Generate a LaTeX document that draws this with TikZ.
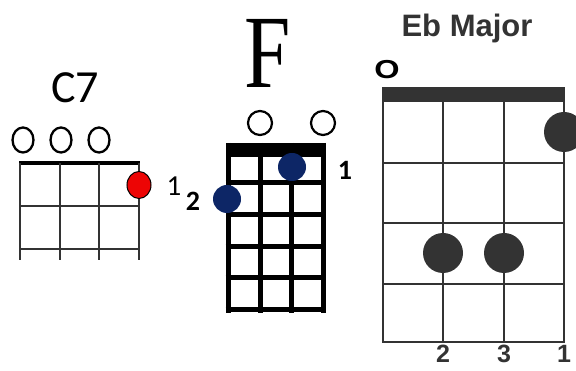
\documentclass[tikz,border=0pt]{standalone}
\usepackage{fontspec}
\setmainfont{Liberation Serif}
\newfontfamily\calibri{Carlito}
\newfontfamily\arial{Liberation Sans}

\definecolor{navydot}{rgb}{0.05,0.15,0.40}
\definecolor{reddot}{rgb}{0.93,0.02,0.02}
\definecolor{darkgrey}{rgb}{0.2,0.2,0.2}

\begin{document}
\begin{tikzpicture}[x=1pt,y=-1pt,
    fingernum/.style={font=\calibri\bfseries\fontsize{28}{28}\selectfont, inner sep=0pt},
    ebnum/.style={font=\arial\bfseries\fontsize{25}{25}\selectfont, inner sep=0pt, text=darkgrey}]
        \useasboundingbox (0,0) rectangle (576,371);

        % C7
        \node[font=\calibri\fontsize{46}{46}\selectfont, inner sep=0pt] (ctitle) at (75,88) {C7};
        \draw[line width=2.3pt] (23,140) ellipse [x radius=10.5, y radius=12.5];
        \draw[line width=2.3pt] (61,140) ellipse [x radius=10.5, y radius=12.5];
        \draw[line width=2.3pt] (99,140) ellipse [x radius=10.5, y radius=12.5];
        \draw[line width=4pt] (19,163) -- (140,163);
        \draw[gray!40!black, line width=1.6pt] (20,163) -- (20,260);
        \draw[gray!40!black, line width=1.6pt] (60,163) -- (60,260);
        \draw[gray!40!black, line width=1.6pt] (99,163) -- (99,260);
        \draw[gray!40!black, line width=1.6pt] (139,163) -- (139,260);
        \draw[gray!40!black, line width=1.6pt] (20,206) -- (139,206);
        \draw[gray!40!black, line width=1.6pt] (20,249) -- (139,249);
        \filldraw[fill=reddot, draw=black, line width=1pt] (139,185) ellipse [x radius=12, y radius=13.5];
        \node[font=\calibri\fontsize{29}{29}\selectfont, inner sep=0pt] (cone) at (174,186) {1};

        % F
        \node[font=\fontsize{104}{104}\selectfont, inner sep=0pt, xscale=0.8] (ftitle) at (268,53) {F};
        \draw[line width=2.2pt] (260,123) circle (12);
        \draw[line width=2.2pt] (323,123) circle (12);
        \fill[black] (225.5,143) rectangle (325.5,157);
        \draw[line width=5pt] (228,143) -- (228,313);
        \draw[line width=5pt] (260,143) -- (260,313);
        \draw[line width=5pt] (291,143) -- (291,313);
        \draw[line width=5pt] (323,143) -- (323,313);
        \draw[line width=5pt] (225.5,183) -- (325.5,183);
        \draw[line width=5pt] (225.5,215) -- (325.5,215);
        \draw[line width=5pt] (225.5,247) -- (325.5,247);
        \draw[line width=5pt] (225.5,278) -- (325.5,278);
        \draw[line width=5pt] (225.5,310) -- (325.5,310);
        \fill[navydot] (292,167) circle (14);
        \fill[navydot] (227,199) circle (14);
        \node[fingernum] (fone) at (345,170) {1};
        \node[fingernum] (ftwo) at (193,201) {2};

        % Eb Major
        \node[font=\arial\bfseries\fontsize{31}{31}\selectfont, inner sep=0pt, text=darkgrey, anchor=base] (ebtitle) at (467,37) {Eb Major};
        \node[font=\arial\bfseries\fontsize{26}{26}\selectfont, inner sep=0pt, xscale=1.25] (ebopen) at (387,70) {O};
        \fill[darkgrey] (382,87) rectangle (565,102);
        \draw[darkgrey, line width=2pt] (383,102) -- (383,343);
        \draw[darkgrey, line width=2pt] (443,102) -- (443,343);
        \draw[darkgrey, line width=2pt] (504,102) -- (504,343);
        \draw[darkgrey, line width=2pt] (564,102) -- (564,343);
        \draw[darkgrey, line width=2pt] (383,163) -- (564,163);
        \draw[darkgrey, line width=2pt] (383,223) -- (564,223);
        \draw[darkgrey, line width=2pt] (383,284) -- (564,284);
        \draw[darkgrey, line width=2pt] (382,342) -- (565,342);
        \fill[darkgrey] (564,132) circle (20);
        \fill[darkgrey] (443,253) circle (20);
        \fill[darkgrey] (504,253) circle (20);
        \node[ebnum] (ebtwo) at (443,354) {2};
        \node[ebnum] (ebthree) at (504,354) {3};
        \node[ebnum] (ebone) at (564,354) {1};
    \end{tikzpicture}
\end{document}
